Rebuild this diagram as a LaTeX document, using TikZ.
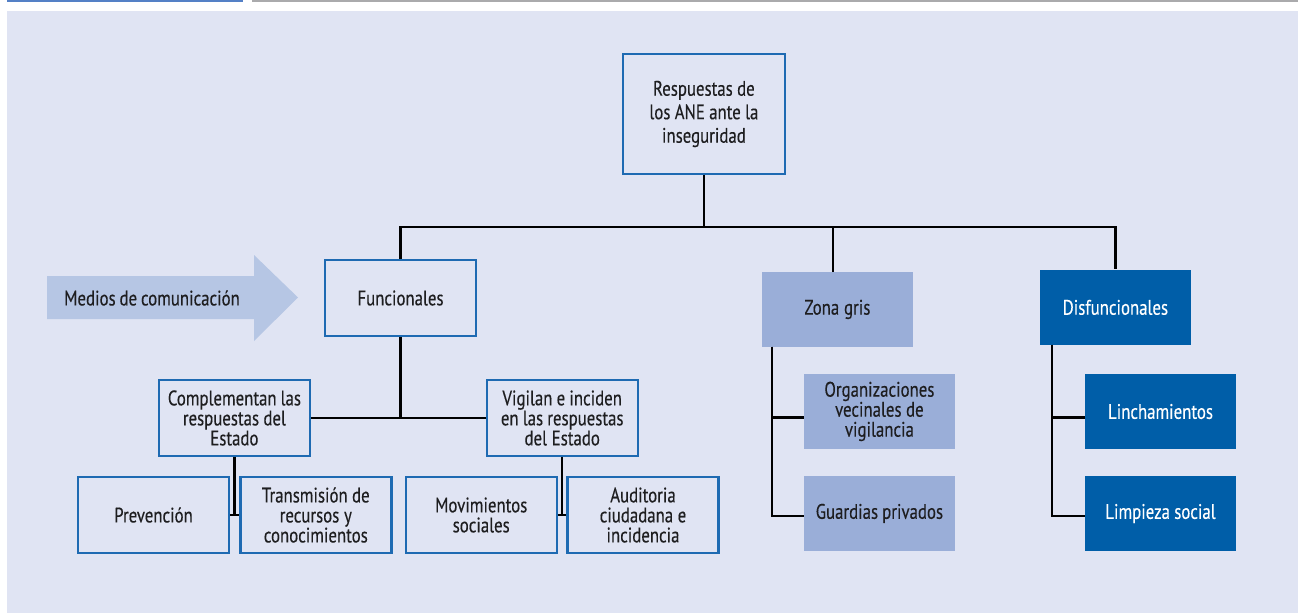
\documentclass[tikz,border=0pt]{standalone}
\usepackage{fontspec}
\setmainfont[FakeStretch=0.8,FakeBold=0.3]{PT Sans}
\definecolor{bgc}{RGB}{224,228,243}
\definecolor{boxline}{RGB}{30,106,178}
\definecolor{darkfill}{RGB}{0,94,168}
\definecolor{grayfill}{RGB}{154,174,216}
\definecolor{arrowc}{RGB}{182,198,228}
\definecolor{topblue}{RGB}{84,128,198}
\definecolor{topgray}{RGB}{170,170,172}
\definecolor{txt}{RGB}{30,30,32}
\newcommand{\myfnt}[2]{\fontsize{#1}{#2}\selectfont}
\newcommand{\tightsp}{\spaceskip=3.9pt plus 1pt minus 1pt\relax}
\tikzset{
  base/.style={rectangle, inner sep=0pt, align=center, text=txt,
    minimum width=151pt, minimum height=75.5pt, text width=146pt,
    font=\myfnt{21}{20}, execute at begin node=\tightsp},
  outlinebox/.style={base, draw=boxline, line width=2.4pt},
  graybox/.style={base, fill=grayfill},
  darkbox/.style={base, fill=darkfill, text=white},
  conn/.style={draw=black, line width=2.2pt}
}
\begin{document}
\begin{tikzpicture}[x=1pt,y=-1pt]
\useasboundingbox (0,0) rectangle (1298,613);
\fill[white] (0,0) rectangle (1298,613);
\fill[bgc] (7,11) rectangle (1298,613);
\fill[topblue] (7,0) rectangle (243,1.8);
\fill[topgray] (252,0) rectangle (1298,1.8);

% arrow
\fill[arrowc] (47,276) -- (254,276) -- (254,255) -- (298,297.5) -- (254,341) -- (254,319) -- (47,319) -- cycle;
\node[anchor=west, inner sep=0pt, text=txt, font=\myfnt{21}{20}, execute at begin node=\tightsp] (medios) at (64,298) {Medios de comunicación};

% nodes
\node[outlinebox, minimum width=162pt, minimum height=120pt, font=\myfnt{21}{23.5}] (root) at (703.9,114) {Respuestas de\\los ANE ante la\\inseguridad};
\node[outlinebox, minimum height=76pt] (func) at (400.5,298) {Funcionales};
\node[graybox] (zg) at (837.4,309.4) {Zona gris\vphantom{p}\\[4pt]};
\node[darkbox] (dis) at (1115.4,307.4) {Disfuncionales\\[4pt]};
\node[graybox] (org) at (879.4,411.4) {Organizaciones\\vecinales de\\vigilancia};
\node[graybox] (gua) at (879.4,513.4) {Guardias privados};
\node[darkbox] (lin) at (1160.5,411.5) {Linchamientos};
\node[darkbox] (lim) at (1160.5,513.5) {Limpieza social};
\node[outlinebox] (comp) at (234.4,418) {Complementan las\\respuestas del\\Estado};
\node[outlinebox] (vig) at (562.2,418) {Vigilan e inciden\\en las respuestas\\del Estado};
\node[outlinebox] (prev) at (153.5,515) {Prevención};
\node[outlinebox] (trans) at (315.8,515) {Transmisión de\\recursos y\\conocimientos};
\node[outlinebox] (mov) at (481.2,515) {Movimientos\\sociales};
\node[outlinebox] (aud) at (643,515) {Auditoria\\ciudadana e\\incidencia};

% connectors
\coordinate (bus) at (703.9,227);
\coordinate (zgtop) at (832.7,272);
\coordinate (zgl) at (772,346.7);
\coordinate (disl) at (1052,344.7);
\draw[conn] (root.south) -- (bus);
\draw[conn] (func.north) -- (func.north |- bus) -- (dis.north |- bus) -- (dis.north);
\draw[conn] (zgtop) -- (zgtop |- bus);
\draw[conn] (func.south) -- (func.south |- comp.east);
\draw[conn] (comp.east) -- (vig.west);
\draw[conn] (comp.south) -- (comp.south |- prev.east);
\draw[conn] (prev.east) -- (trans.west);
\draw[conn] (vig.south) -- (vig.south |- mov.east);
\draw[conn] (mov.east) -- (aud.west);
\draw[conn] (zgl) |- ([yshift=-6pt]org.west);
\draw[conn] (zgl) |- ([yshift=-2.6pt]gua.west);
\draw[conn] (disl) |- ([yshift=-6pt]lin.west);
\draw[conn] (disl) |- ([yshift=-2.6pt]lim.west);
\end{tikzpicture}
\end{document}
